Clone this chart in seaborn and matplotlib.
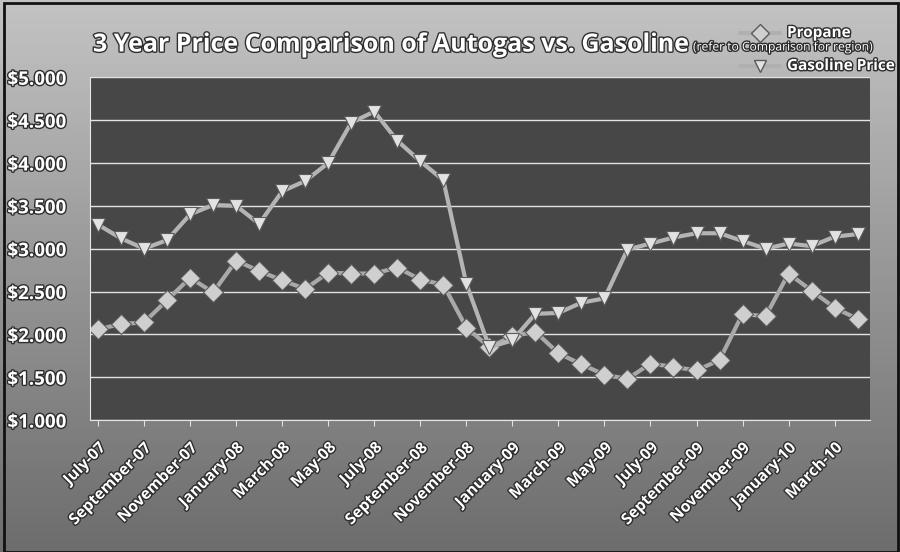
import numpy as np
import pandas as pd
import matplotlib
matplotlib.use('Agg')
import matplotlib.pyplot as plt
import matplotlib.patheffects as pe
import seaborn as sns

months = ['July-07', 'August-07', 'September-07', 'October-07', 'November-07', 'December-07',
          'January-08', 'February-08', 'March-08', 'April-08', 'May-08', 'June-08',
          'July-08', 'August-08', 'September-08', 'October-08', 'November-08', 'December-08',
          'January-09', 'February-09', 'March-09', 'April-09', 'May-09', 'June-09',
          'July-09', 'August-09', 'September-09', 'October-09', 'November-09', 'December-09',
          'January-10', 'February-10', 'March-10', 'April-10']

propane = [2.06, 2.12, 2.14, 2.40, 2.66, 2.49, 2.86, 2.74, 2.63, 2.53, 2.72, 2.71,
           2.71, 2.78, 2.64, 2.58, 2.08, 1.85, 1.98, 2.03, 1.78, 1.65, 1.53, 1.48,
           1.66, 1.62, 1.58, 1.70, 2.24, 2.21, 2.71, 2.51, 2.31, 2.18]

gasoline = [3.28, 3.12, 3.00, 3.10, 3.40, 3.51, 3.50, 3.29, 3.67, 3.79, 4.00, 4.47,
            4.60, 4.26, 4.02, 3.80, 2.59, 1.85, 1.93, 2.24, 2.25, 2.37, 2.42, 2.99,
            3.06, 3.13, 3.18, 3.18, 3.09, 3.00, 3.06, 3.03, 3.14, 3.17]

yticks = [1.0, 1.5, 2.0, 2.5, 3.0, 3.5, 4.0, 4.5, 5.0]

df = pd.DataFrame({
    'idx': list(range(len(months))) * 2,
    'price': propane + gasoline,
    'series': ['Propane'] * len(months) + ['Gasoline Price'] * len(months),
})

sns.set_style('dark')
plt.rcParams['font.family'] = ['Open Sans', 'DejaVu Sans']

fig = plt.figure(figsize=(9, 5.52), dpi=100)
fig.patch.set_facecolor('#8e8e8e')

# vertical shading behind everything, lighter at top
bg = fig.add_axes([0, 0, 1, 1], zorder=-10)
grad = np.linspace(0, 1, 256).reshape(-1, 1)
bg.imshow(grad, aspect='auto', cmap='Greys', vmin=-1.2, vmax=2.2, extent=[0, 1, 0, 1])
bg.set_axis_off()
fig.add_artist(plt.Rectangle((0.004, 0.0), 0.994, 0.995, fill=False, edgecolor='#111111',
                             lw=2, transform=fig.transFigure))

ax = fig.add_axes([0.1, 0.239, 0.867, 0.621])
ax.set_facecolor('#474747')

sns.lineplot(data=df, x='idx', y='price', hue='series', style='series',
             markers={'Propane': 'D', 'Gasoline Price': 'v'}, dashes=False,
             palette={'Propane': '#a9a9a9', 'Gasoline Price': '#b4b4b4'},
             linewidth=3, markersize=10, markeredgecolor='#5a5a5a',
             markeredgewidth=0.8, legend=False, ax=ax)
for ln, fc in zip(ax.lines, ['#cfcfcf', '#e2e2e2']):
    ln.set_markerfacecolor(fc)

ax.set_ylim(1, 5)
ax.set_xlim(-0.35, 33.55)
ax.set_yticks(yticks)
ax.set_yticklabels(['$%.3f' % v for v in yticks])
ax.set_xticks(range(0, len(months), 2))
ax.set_xticklabels(months[::2], rotation=45, ha='right', rotation_mode='anchor')
ax.set_xlabel('')
ax.set_ylabel('')

stroke = [pe.withStroke(linewidth=2, foreground='#2e2e2e')]
for lab in ax.get_yticklabels():
    lab.set_color('white')
    lab.set_fontsize(13.5)
    lab.set_fontweight('bold')
    lab.set_path_effects(stroke)
for lab in ax.get_xticklabels():
    lab.set_color('white')
    lab.set_fontsize(11.3)
    lab.set_fontweight('bold')
    lab.set_path_effects(stroke)

ax.tick_params(axis='y', pad=17, length=0)
ax.tick_params(axis='x', pad=10, length=4, color='#e0e0e0', direction='out', bottom=True)
ax.grid(axis='y', color='white', linewidth=1, alpha=0.85)
ax.grid(axis='x', visible=False)
for side in ['top', 'right']:
    ax.spines[side].set_visible(False)
ax.spines['left'].set_color('#e6e6e6')
ax.spines['bottom'].set_color('#e6e6e6')

title = fig.text(93 / 900, 1 - 45 / 552, '3 Year Price Comparison of Autogas vs. Gasoline',
                 fontsize=18, fontweight='bold', color='white', va='center',
                 path_effects=stroke)
fig.canvas.draw()
ax.annotate(' (refer to Comparison for region)', xy=(1, 0.16), xycoords=title,
            fontsize=8.7, color='white', va='bottom', ha='left', path_effects=stroke)

# legend drawn at top right
for i, (name, mk, fc) in enumerate([('Propane', 'D', '#cfcfcf'), ('Gasoline Price', 'v', '#e2e2e2')]):
    yy = 1 - (33 + 33 * i) / 552
    fig.add_artist(plt.Line2D([740 / 900, 780 / 900], [yy, yy], color='#b0b0b0', lw=3,
                              transform=fig.transFigure))
    fig.add_artist(plt.Line2D([760 / 900], [yy], marker=mk, markersize=9, markerfacecolor=fc,
                              markeredgecolor='#5a5a5a', transform=fig.transFigure))
    fig.text(787 / 900, yy, name, fontsize=11, color='white', va='center',
             fontweight='bold', path_effects=stroke)

fig.savefig('out.png', dpi=100, facecolor=fig.get_facecolor())
